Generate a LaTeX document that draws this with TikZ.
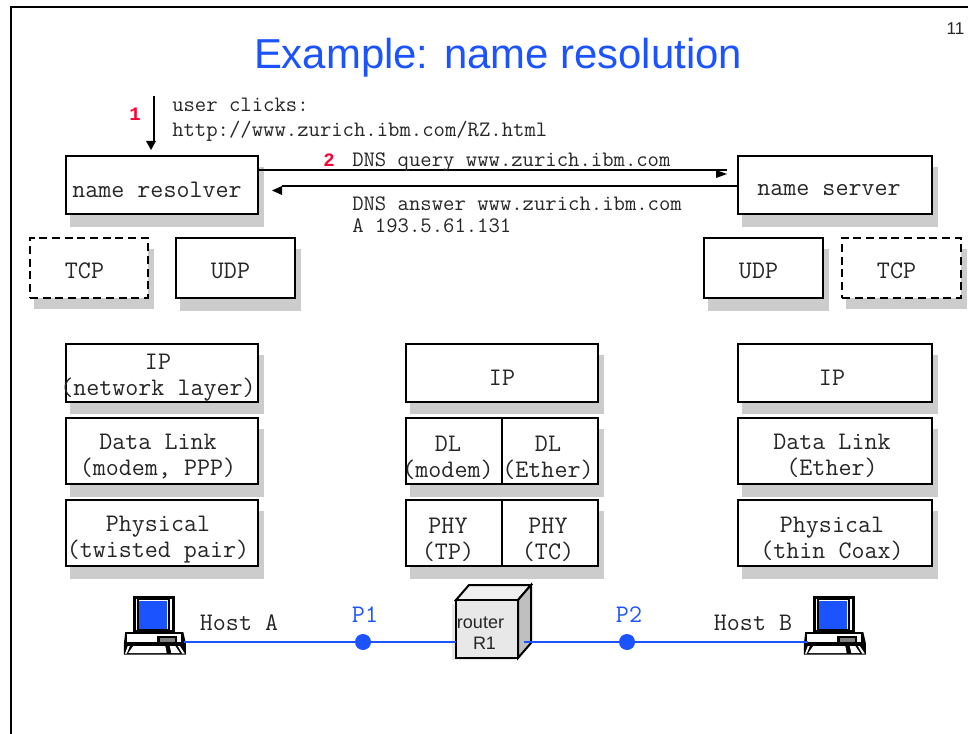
\documentclass[tikz,border=0pt]{standalone}
\usepackage{fontspec}
\setmainfont{Liberation Sans}
\newfontfamily\numfont{Liberation Mono}
\definecolor{tblue}{HTML}{1A53FF}
\definecolor{sdwgray}{HTML}{CCCCCC}
\definecolor{nred}{HTML}{FF0033}
\tikzset{
  x=0.75pt,y=-0.75pt,
  blk/.style={line width=1.5pt},
  boxnode/.style={blk,draw=black,fill=white,rectangle,inner sep=0pt,outer sep=0pt},
  dashbox/.style={boxnode,dash pattern=on 6pt off 3.5pt},
  big/.style={font=\ttfamily\fontsize{18.95}{19.5}\selectfont,align=center,inner sep=0pt,text=black!85},
  small/.style={font=\ttfamily\fontsize{16.55}{17}\selectfont,anchor=base west,inner sep=0pt,text=black!85},
  num/.style={font=\numfont\bfseries\fontsize{14.2}{17}\selectfont,text=nred,inner sep=0pt},
  wire/.style={line width=1.5pt,draw=tblue},
  pdot/.style={circle,fill=tblue,minimum size=12pt,inner sep=0pt},
  plabel/.style={font=\ttfamily\fontsize{18.95}{19.5}\selectfont,text=tblue,inner sep=0pt},
  computer/.pic={
    \fill[black] (0,0) rectangle (41.4,36);
    \fill[white] (2.7,3) rectangle (3.9,34);
    \fill[white] (37,3) rectangle (38.2,34);
    \fill[white] (5.5,3.6) rectangle (34.5,33);
    \fill[tblue] (6,5) rectangle (33.4,32.5);
    \fill[black] (-9.4,47.5) -- (-8,36) -- (50,36) -- (52.6,47.5) -- (52.6,58.7) -- (-9.4,58.7) -- cycle;
    \fill[white] (-6.6,38) rectangle (47.6,46);
    \fill[black] (24,40) rectangle (43.3,47.4);
    \fill[gray] (26.7,42) rectangle (41.3,46);
    \fill[white] (-5,57) -- (0,50) -- (32,50) -- (33.3,57) -- cycle;
    \fill[white] (38,57) -- (36.5,50) -- (42,50) -- (46.7,57) -- cycle;
    \fill[white] (-8.3,57.6) -- (-5.5,50) -- (-3.5,50) -- (-6.5,57.6) -- cycle;
    \fill[white] (49,57.6) -- (44.5,50) -- (46.5,50) -- (51.5,57.6) -- cycle;
  }
}
% name, x1, y1, x2, y2, shadow bottom, style
\newcommand{\stackbox}[7]{%
  \fill[sdwgray] (#2+4,#3+11) rectangle (#4+6,#6);
  \node[#7,minimum width=(#4-#2)*0.75pt,minimum height=(#5-#3)*0.75pt] (#1) at ({(#2+#4)/2},{(#3+#5)/2}) {};
}
\begin{document}
\begin{tikzpicture}
\useasboundingbox (0,0) rectangle (968,734);
% slide frame
\coordinate (fa) at (11,734);
\coordinate (fb) at (11,7);
\coordinate (fc) at (968,7);
\draw[blk] (fa) -- (fb) -- (fc);
\node[font=\fontsize{31.4}{36}\selectfont,text=tblue,inner sep=0pt] (title) at (498,58) {Example: name resolution};
\node[font=\fontsize{12.8}{15}\selectfont,text=black!85,inner sep=0pt] (pageno) at (955.5,29) {11};

% application layer
\stackbox{res}{66}{156}{258}{214}{227}{boxnode}
\stackbox{srv}{738}{156}{932}{214}{227}{boxnode}
\node[big] (tres) at (157,189.5) {name resolver};
\node[big] (tsrv) at (829,190) {name server};

% transport
\stackbox{tcpl}{30}{238}{148}{298}{309}{dashbox}
\stackbox{udpl}{176}{238}{295}{298}{311}{boxnode}
\stackbox{udpr}{704}{238}{823}{298}{311}{boxnode}
\stackbox{tcpr}{842}{238}{961}{298}{309}{dashbox}
\node[big] (t1) at (84.5,271) {TCP};
\node[big] (t2) at (230.5,271) {UDP};
\node[big] (t3) at (758.5,271) {UDP};
\node[big] (t4) at (896.5,271) {TCP};

% left stack
\stackbox{ipa}{66}{344}{258}{402}{414}{boxnode}
\stackbox{dla}{66}{418}{258}{484}{497}{boxnode}
\stackbox{pha}{66}{500}{258}{566}{579}{boxnode}
\node[big] (tipa) at (158,377.5) {IP\\(network layer)};
\node[big] (tdla) at (158,457) {Data Link\\(modem, PPP)};
\node[big] (tpha) at (158,540) {Physical\\(twisted pair)};

% middle stack
\stackbox{ipm}{406}{344}{598}{402}{414}{boxnode}
\stackbox{dlm}{406}{418}{598}{484}{497}{boxnode}
\stackbox{phm}{406}{500}{598}{566}{579}{boxnode}
\coordinate (dlt) at (502,418);
\coordinate (dlb) at (502,484);
\coordinate (pht) at (502,500);
\coordinate (phb) at (502,566);
\draw[blk] (dlt) -- (dlb);
\draw[blk] (pht) -- (phb);
\node[big] (tipm) at (502,378) {IP};
\node[big] (tdl1) at (448,457.5) {DL\\(modem)};
\node[big] (tdl2) at (548,457.5) {DL\\(Ether)};
\node[big] (tph1) at (448,540) {PHY\\(TP)};
\node[big] (tph2) at (548,540) {PHY\\(TC)};

% right stack
\stackbox{ipb}{738}{344}{932}{402}{414}{boxnode}
\stackbox{dlb2}{738}{418}{932}{484}{497}{boxnode}
\stackbox{phb2}{738}{500}{932}{566}{579}{boxnode}
\node[big] (tipb) at (832,378) {IP};
\node[big] (tdlb) at (832,456) {Data Link\\(Ether)};
\node[big] (tphb) at (832,539) {Physical\\(thin Coax)};

% step 1
\coordinate (s1a) at (154,96);
\coordinate (s1b) at (154,142);
\draw[blk] (s1a) -- (s1b);
\fill (146,141) -- (156,141) -- (151,150) -- cycle;
\node[num] (n1) at (135,114) {1};
\node[small] (u1) at (172,112) {user clicks:};
\node[small] (u2) at (172,136.5) {http://www.zurich.ibm.com/RZ.html};

% step 2
\coordinate (q1) at (res.east |- 0,170);
\coordinate (q2) at (727,170);
\draw[blk] (q1) -- (q2);
\fill (716,170) -- (727,174) -- (716,178) -- cycle;
\coordinate (a1) at (srv.west |- 0,186);
\coordinate (a2) at (282,186);
\draw[blk] (a1) -- (a2);
\fill (282,186) -- (272,190.5) -- (282,195) -- cycle;
\node[num] (n2) at (329,160) {2};
\node[small] (d1) at (352,166.5) {DNS query www.zurich.ibm.com};
\node[small] (d2) at (352,210.5) {DNS answer www.zurich.ibm.com};
\node[small] (d3) at (352,232.5) {A 193.5.61.131};

% hosts
\pic at (133.3,596) {computer};
\pic at (813.3,596) {computer};
\coordinate (hA) at (184,642);
\coordinate (hB) at (808,642);

% router
\fill[black!9] (452,604) rectangle (515,660);
\path[blk,draw=black,fill=black!6] (456,600) -- (469,585) -- (531,585) -- (518,600) -- cycle;
\path[blk,draw=black,fill=black!25] (518,600) -- (531,585) -- (531,643) -- (518,658) -- cycle;
\node[boxnode,draw=black,fill=black!9,minimum width=46.5pt,minimum height=43.5pt] (router) at (487,629) {};
\node[font=\fontsize{13.5}{15.8}\selectfont,align=center,inner sep=0pt,text=black!85] (trouter) at (480.5,633) {router\\\hspace*{6pt}R1};

% links
\node[pdot] (p1) at (363,642) {};
\node[pdot] (p2) at (627,642) {};
\coordinate (rw) at (router.west |- p1);
\coordinate (re) at (524,642);
\draw[wire] (hA) -- (p1) -- (rw);
\draw[wire] (re) -- (p2) -- (hB);
\node[plabel] (lp1) at (365,615) {P1};
\node[plabel] (lp2) at (629,615) {P2};
\node[big] (ha) at (239,623) {Host A};
\node[big] (hb) at (753,623) {Host B};
\end{tikzpicture}
\end{document}
